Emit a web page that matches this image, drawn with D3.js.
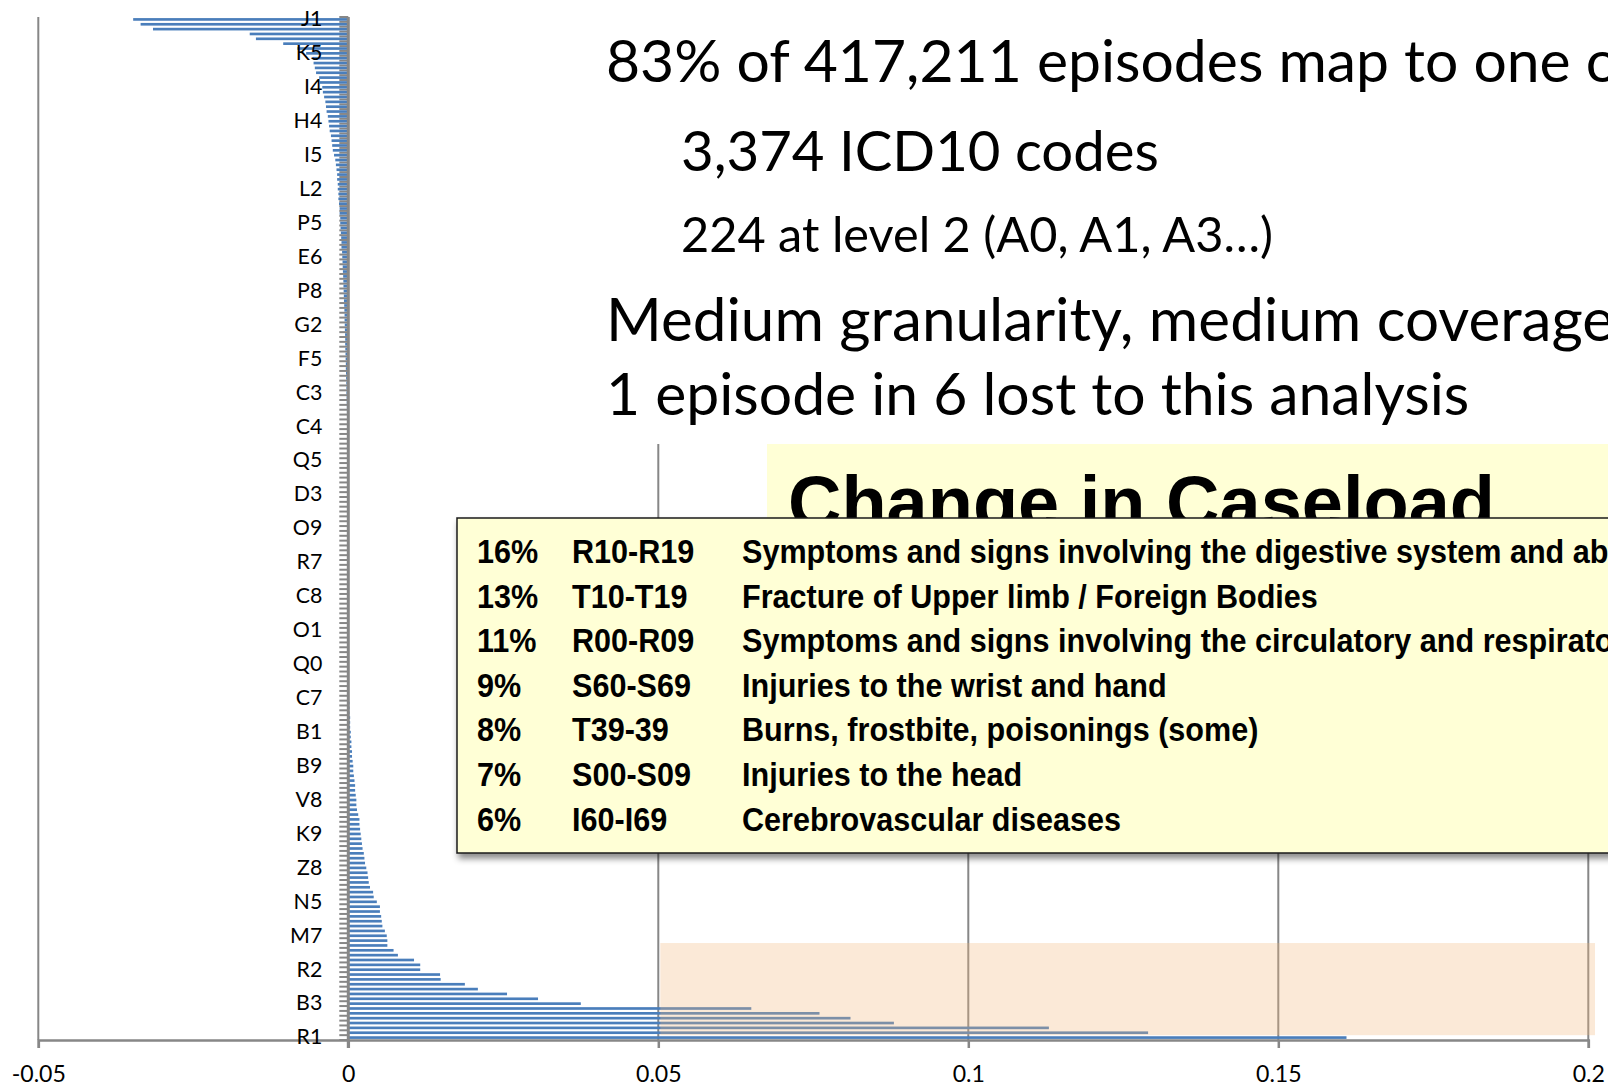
<!DOCTYPE html>
<html>
<head>
<meta charset="utf-8">
<script src="https://cdn.jsdelivr.net/npm/d3@7"></script>
<style>
  html, body { margin: 0; padding: 0; background: #fff; overflow: hidden; }
  svg { display: block; }
</style>
</head>
<body>
<svg id="chart" width="1608" height="1085"></svg>
<script>
"use strict";

// ---------------------------------------------------------------------------
// Level-2 ICD10 codes, one bar each, plotted bottom (R1) → top (J1).
// Only every 7th code is labelled on the category axis, like the original.
// ---------------------------------------------------------------------------

const LABEL_STEP = 7;
const tickLabels = [
  "R1", "B3", "R2", "M7", "N5", "Z8", "K9", "V8", "B9", "B1", "C7",
  "Q0", "O1", "C8", "R7", "O9", "D3", "Q5", "C4", "C3", "F5", "G2",
  "P8", "E6", "P5", "L2", "I5", "H4", "I4", "K5", "J1",
];

// change in share of caseload, index 0 = bottom bar (R1)
const values = [
  0.161, 0.129, 0.113, 0.088, 0.081, 0.076, 0.065, 0.0375, 0.0306, 0.0256,
  0.0209, 0.0188, 0.0149, 0.0148, 0.0116, 0.0116, 0.0106, 0.0080, 0.0073, 0.0063,
  0.0063, 0.0062, 0.0059, 0.0055, 0.0054, 0.0053, 0.0051, 0.0051, 0.0046, 0.0041,
  0.0040, 0.0035, 0.0033, 0.0032, 0.0031, 0.0029, 0.0027, 0.0026, 0.0025, 0.0023,
  0.0022, 0.0021, 0.0020, 0.0019, 0.0018, 0.0018, 0.0016, 0.0014, 0.0013, 0.0013,
  0.0012, 0.0011, 0.0011, 0.0010, 0.0009, 0.0008, 0.0008, 0.0007, 0.0006, 0.0006,
  0.0005, 0.0005, 0.0004, 0.0004, 0.0003, 0.0003, 0.0003, 0.0002, 0.0002, 0.0002,
  0.0001, 0.0001, 0.0001, 0.0001, 0.0001, 0.0001, 0.00008, 0.00008, 0.00006, 0.00006,
  0.00005, 0.00005, 0.00004, 0.00004, 0.00003, 0.00003, 0.00002, 0.00002, 0.00002, 0.00001,
  0.00001, 0, 0, 0, -0.00001, -0.00001, -0.00002, -0.00002, -0.00003, -0.00003,
  -0.00004, -0.00004, -0.00005, -0.00005, -0.00006, -0.00006, -0.00007, -0.00007, -0.00008, -0.00008,
  -0.00009, -0.0001, -0.0001, -0.0001, -0.00011, -0.00012, -0.00012, -0.00013, -0.00013, -0.00014,
  -0.00015, -0.00015, -0.00016, -0.00017, -0.00018, -0.00019, -0.0002, -0.0002, -0.00021, -0.00022,
  -0.00023, -0.00025, -0.00027, -0.0003, -0.0003, -0.00032, -0.00035, -0.00037, -0.0004, -0.0004,
  -0.00043, -0.00045, -0.00048, -0.0005, -0.0005, -0.00052, -0.00055, -0.00057, -0.0006, -0.0006,
  -0.00063, -0.00066, -0.0007, -0.00072, -0.00075, -0.00078, -0.0008, -0.00083, -0.00087, -0.0009,
  -0.00093, -0.00097, -0.001, -0.0011, -0.0011, -0.00115, -0.0012, -0.00125, -0.0013, -0.0013,
  -0.0014, -0.0014, -0.0015, -0.0016, -0.0016, -0.0017, -0.0017, -0.0018, -0.0018, -0.0019,
  -0.0020, -0.0021, -0.0023, -0.0025, -0.0026, -0.0027, -0.0028, -0.0030, -0.0031, -0.0032,
  -0.0033, -0.0035, -0.0036, -0.0037, -0.0039, -0.0041, -0.0042, -0.0046, -0.0047, -0.0052,
  -0.0054, -0.0056, -0.0057, -0.0068, -0.0082, -0.0105, -0.0149, -0.0159, -0.0315, -0.0335,
  -0.0347,
];

const xTicks = [-0.05, 0, 0.05, 0.1, 0.15, 0.2];

// slide text laid over the chart
const headline = "83% of 417,211 episodes map to one of";
const subLines = ["3,374 ICD10 codes", "224 at level 2 (A0, A1, A3…)"];
const summaryLines = ["Medium granularity, medium coverage", "1 episode in 6 lost to this analysis"];
const boxTitle = "Change in Caseload";

const tablePct = ["16%", "13%", "11%", "9%", "8%", "7%", "6%"];
const tableRange = ["R10-R19", "T10-T19", "R00-R09", "S60-S69", "T39-39", "S00-S09", "I60-I69"];
const tableDesc = [
  "Symptoms and signs involving the digestive system and abdomen",
  "Fracture of Upper limb / Foreign Bodies",
  "Symptoms and signs involving the circulatory and respiratory systems",
  "Injuries to the wrist and hand",
  "Burns, frostbite, poisonings (some)",
  "Injuries to the head",
  "Cerebrovascular diseases",
];

// ---------------------------------------------------------------------------

const GRID = "#878787";
const BAR = "#4a7ebb";
const SANS = "Lato, 'Open Sans', sans-serif";
const BOLD = "'Liberation Sans', Arial, sans-serif";

const svg = d3.select("#chart");
const plot = { left: 38.3, right: 1588.3, top: 17, bottom: 1040 };

const x = d3.scaleLinear().domain([-0.05, 0.2]).range([plot.left, plot.right]);
const y = d3
  .scaleBand()
  .domain(d3.range(values.length).reverse()) // first code at the bottom
  .range([plot.top, plot.bottom]);
const bw = y.bandwidth();
const barH = bw * 0.55;

// scale a text node's font-size so it spans the given width
function fitWidth(node, w) {
  const fs = parseFloat(node.getAttribute("font-size"));
  node.setAttribute("font-size", (fs * w) / node.getComputedTextLength());
  return parseFloat(node.getAttribute("font-size"));
}

// vertical gridlines (not at zero: the category axis sits there)
svg.append("g")
  .selectAll("line")
  .data(xTicks.filter((d) => d !== 0))
  .join("line")
  .attr("x1", (d) => x(d)).attr("x2", (d) => x(d))
  .attr("y1", plot.top).attr("y2", plot.bottom)
  .attr("stroke", GRID).attr("stroke-width", 2);

// value axis along the bottom
const xAxis = svg.append("g")
  .attr("transform", `translate(0,${plot.bottom})`)
  .call(d3.axisBottom(x).tickValues(xTicks).tickSize(8).tickPadding(14).tickFormat((d) => String(d)));
xAxis.select(".domain").attr("stroke", GRID).attr("stroke-width", 2.5);
xAxis.selectAll(".tick line").attr("stroke", GRID).attr("stroke-width", 2.5);
xAxis.selectAll(".tick text")
  .attr("fill", "#000").attr("font-family", SANS).attr("font-size", 24).attr("dy", null)
  .attr("y", 42);
{
  const sample = xAxis.selectAll(".tick text").filter((d) => d === 0.15).node();
  const fs = fitWidth(sample, 45.7);
  xAxis.selectAll(".tick text").attr("font-size", fs);
}

// category tick marks at every band boundary
svg.append("g")
  .selectAll("line")
  .data(d3.range(values.length + 1))
  .join("line")
  .attr("x1", x(0) - 9).attr("x2", x(0))
  .attr("y1", (i) => plot.top + i * bw).attr("y2", (i) => plot.top + i * bw)
  .attr("stroke", GRID).attr("stroke-width", 2);

// bars
svg.append("g")
  .selectAll("rect")
  .data(values)
  .join("rect")
  .attr("x", (d) => x(Math.min(0, d)))
  .attr("width", (d) => Math.abs(x(d) - x(0)))
  .attr("y", (d, i) => y(i) + (bw - barH) / 2)
  .attr("height", barH)
  .attr("fill", BAR);

// category axis line + sparse labels
const yAxis = svg.append("g")
  .attr("transform", `translate(${x(0)},0)`)
  .call(
    d3.axisLeft(y)
      .tickValues(d3.range(0, values.length, LABEL_STEP))
      .tickSize(0)
      .tickPadding(26)
      .tickFormat((i) => tickLabels[i / LABEL_STEP])
  );
yAxis.select(".domain").attr("stroke", GRID).attr("stroke-width", 3).attr("d", `M0,${plot.top}V${plot.bottom + 8}`);
yAxis.selectAll(".tick text").attr("fill", "#000").attr("font-family", SANS).attr("font-size", 22);
{
  const sample = yAxis.selectAll(".tick text").filter((i) => tickLabels[i / LABEL_STEP] === "N5").node();
  const fs = fitWidth(sample, 28.7);
  yAxis.selectAll(".tick text").attr("font-size", fs);
}

// highlighted band over the top codes
svg.append("rect")
  .attr("x", x(0.05) + 2)
  .attr("y", y(19))
  .attr("width", 1595 - x(0.05) - 2)
  .attr("height", y(0) - y(19))
  .attr("fill", "rgb(242,182,122)")
  .attr("fill-opacity", 0.3);

// ---------------------------------------------------------------------------
// Slide overlays
// ---------------------------------------------------------------------------

const defs = svg.append("defs");
const shadow = defs.append("filter").attr("id", "shadow")
  .attr("x", "-5%").attr("y", "-5%").attr("width", "115%").attr("height", "125%");
shadow.append("feDropShadow")
  .attr("dx", 2).attr("dy", 5).attr("stdDeviation", 3)
  .attr("flood-color", "#000").attr("flood-opacity", 0.45);

// white text area over the upper right of the chart
svg.append("rect").attr("x", 575).attr("y", 0).attr("width", 1033).attr("height", 444).attr("fill", "#fff");

const txt = svg.append("g").attr("font-family", SANS).attr("fill", "#000");

const l5 = txt.append("text").attr("x", 606).attr("y", 415).attr("font-size", 50).text(summaryLines[1]).node();
const bigFs = fitWidth(l5, 863.5);
txt.append("text").attr("x", 606).attr("y", 82).attr("font-size", bigFs).text(headline);
const l4 = txt.append("text").attr("x", 606).attr("y", 341).attr("font-size", bigFs).text(summaryLines[0]).node();
fitWidth(l4, 1008);

const l2 = txt.append("text").attr("x", 681).attr("y", 171).attr("font-size", 50).text(subLines[0]).node();
fitWidth(l2, 478);
const l3 = txt.append("text").attr("x", 681).attr("y", 252).attr("font-size", 40).text(subLines[1]).node();
fitWidth(l3, 592);

// yellow title box, partly hidden by the table
svg.append("rect").attr("x", 767).attr("y", 444).attr("width", 841).attr("height", 395).attr("fill", "#ffffd6");
const title = svg.append("text")
  .attr("x", 788).attr("y", 528)
  .attr("font-family", BOLD).attr("font-weight", "bold").attr("font-size", 74)
  .attr("fill", "#000").text(boxTitle).node();
fitWidth(title, 707);

// table of the largest groups
svg.append("rect")
  .attr("x", 457).attr("y", 518).attr("width", 1200).attr("height", 335)
  .attr("fill", "#ffffd6").attr("stroke", "#1a1a1a").attr("stroke-width", 1.5)
  .attr("filter", "url(#shadow)");

const table = svg.append("g")
  .attr("font-family", BOLD).attr("font-weight", "bold").attr("font-size", 32.5).attr("fill", "#000");

// measure the horizontal squeeze of the table font from one full line
const probe = table.append("text").text(tableDesc[1]);
const squeeze = 576 / probe.node().getComputedTextLength();
probe.remove();

const rowY = d3.scaleLinear().domain([0, 6]).range([563, 830.5]);
const cols = [
  { x: 477, arr: tablePct },
  { x: 572, arr: tableRange },
  { x: 742, arr: tableDesc },
];
cols.forEach((c) => {
  table.append("g")
    .selectAll("text")
    .data(c.arr)
    .join("text")
    .attr("transform", (d, i) => `translate(${c.x},${rowY(i)}) scale(${squeeze},1)`)
    .text((d) => d);
});
</script>
</body>
</html>
